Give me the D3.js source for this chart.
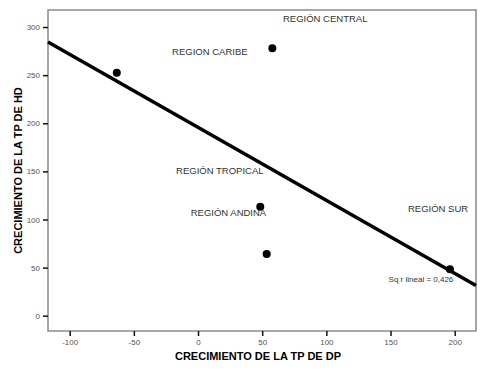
<!DOCTYPE html>
<html>
<head>
<meta charset="utf-8">
<script src="https://cdn.jsdelivr.net/npm/d3@7"></script>
<style>
  body { margin: 0; background: #fff; }
  text { font-family: "Liberation Sans", Arial, sans-serif; }
</style>
</head>
<body>
<script>
'use strict';

let width = 491, height = 377;

// puntos (crecimiento TP DP, crecimiento TP HD)
let dpValues = [-63.3, 57.9, 48.5, 53.5, 196.3];
let hdValues = [252.6, 278, 113.3, 64.1, 48.4];

let regionNames = ['REGIÓN CENTRAL', 'REGION CARIBE', 'REGIÓN TROPICAL', 'REGIÓN ANDINA', 'REGIÓN SUR'];
// label anchor positions in data units
let regionLabelX = [66.2, -20.2, -17.1, -5.7, 163.6];
let regionLabelY = [308.4, 274.4, 150.4, 106.8, 110.9];

let xTicks = [-100, -50, 0, 50, 100, 150, 200];
let yTicks = [0, 50, 100, 150, 200, 250, 300];

let plotLeft = 48, plotRight = 476, plotTop = 10, plotBottom = 331;

let x = d3.scaleLinear().domain([-116.9, 216.6]).range([plotLeft, plotRight]);
let y = d3.scaleLinear().domain([-15.9, 317.7]).range([plotBottom, plotTop]);

let svg = d3.select('body').append('svg')
  .attr('width', width)
  .attr('height', height);

// linear fit
let n = dpValues.length;
let mx = d3.mean(dpValues), my = d3.mean(hdValues);
let sxy = 0, sxx = 0, syy = 0;
for (let i = 0; i < n; i++) {
  sxy += (dpValues[i] - mx) * (hdValues[i] - my);
  sxx += (dpValues[i] - mx) ** 2;
  syy += (hdValues[i] - my) ** 2;
}
let slope = sxy / sxx;
let intercept = my - slope * mx;
let r2 = sxy * sxy / (sxx * syy);

// frame
svg.append('rect')
  .attr('x', plotLeft).attr('y', plotTop)
  .attr('width', plotRight - plotLeft).attr('height', plotBottom - plotTop)
  .attr('fill', 'none')
  .attr('stroke', '#8a8a8a')
  .attr('stroke-width', 1.5);

// axes
let fmt = d => String(d);
let xAxis = svg.append('g')
  .attr('transform', `translate(0,${plotBottom})`)
  .call(d3.axisBottom(x).tickValues(xTicks).tickFormat(fmt).tickSize(5).tickPadding(3));
let yAxis = svg.append('g')
  .attr('transform', `translate(${plotLeft},0)`)
  .call(d3.axisLeft(y).tickValues(yTicks).tickFormat(fmt).tickSize(5).tickPadding(3));

[xAxis, yAxis].forEach(g => {
  g.select('.domain').remove();
  g.selectAll('line').attr('stroke', '#111').attr('stroke-width', 1.5);
  g.selectAll('text')
    .attr('fill', '#555')
    .style('font-size', '8px')
    .style('font-family', '"Liberation Sans", Arial, sans-serif');
});

// regression line
let xd = x.domain();
svg.append('line')
  .attr('x1', x(xd[0])).attr('y1', y(intercept + slope * xd[0]))
  .attr('x2', x(xd[1])).attr('y2', y(intercept + slope * xd[1]))
  .attr('stroke', '#000')
  .attr('stroke-width', 3.5);

// points
svg.append('g').selectAll('circle')
  .data(dpValues)
  .join('circle')
  .attr('cx', d => x(d))
  .attr('cy', (d, i) => y(hdValues[i]))
  .attr('r', 4)
  .attr('fill', '#000');

// region labels
svg.append('g').selectAll('text')
  .data(regionNames)
  .join('text')
  .attr('x', (d, i) => x(regionLabelX[i]))
  .attr('y', (d, i) => y(regionLabelY[i]))
  .attr('dy', '0.35em')
  .attr('fill', '#333')
  .style('font-size', '9.5px')
  .text(d => d);

svg.append('text')
  .attr('x', x(148.5))
  .attr('y', y(38.1))
  .attr('dy', '0.35em')
  .attr('fill', '#333')
  .style('font-size', '8px')
  .text('Sq r lineal = ' + d3.format('.3f')(r2).replace('.', ','));

// axis titles
svg.append('text')
  .attr('x', 258)
  .attr('y', 356)
  .attr('dy', '0.35em')
  .attr('text-anchor', 'middle')
  .attr('font-weight', 'bold')
  .style('font-size', '11px')
  .text('CRECIMIENTO DE LA TP DE DP');

svg.append('text')
  .attr('transform', `translate(18,${(plotTop + plotBottom) / 2}) rotate(-90)`)
  .attr('dy', '0.35em')
  .attr('text-anchor', 'middle')
  .attr('font-weight', 'bold')
  .style('font-size', '11px')
  .text('CRECIMIENTO DE LA TP DE HD');
</script>
</body>
</html>
